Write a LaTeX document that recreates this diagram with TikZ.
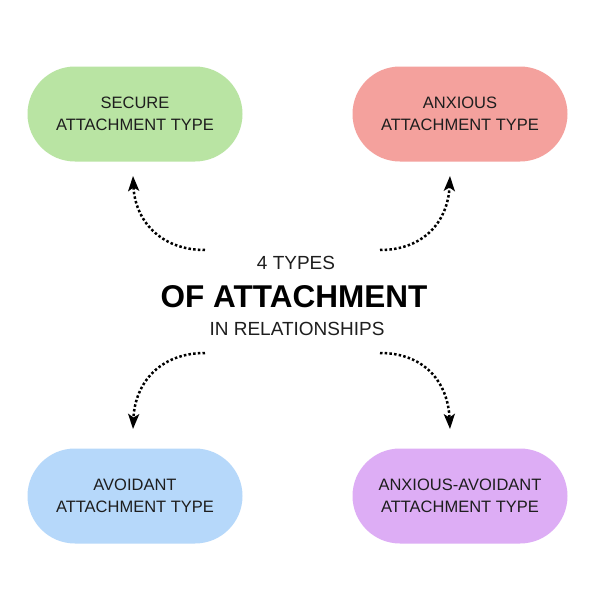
\documentclass[tikz,border=0pt]{standalone}
\usepackage{fontspec}
\setmainfont{Liberation Sans}
\usetikzlibrary{arrows.meta}
\definecolor{cgreen}{HTML}{B9E4A3}
\definecolor{cred}{HTML}{F4A19D}
\definecolor{cblue}{HTML}{B6D8FA}
\definecolor{cpurple}{HTML}{DDADF5}
\definecolor{ctext}{HTML}{1E1E1E}
\tikzset{
  pill/.style={draw=none, minimum width=215pt, minimum height=95pt, rounded corners=47.5pt, align=center, text=ctext, font=\fontsize{16.5}{22}\selectfont, inner sep=0pt},
  dotarrow/.style={line width=2.5pt, dash pattern=on 2.5pt off 2.2pt, -{Stealth[length=15pt,width=11pt,inset=3.5pt]}},
}
\begin{document}
\begin{tikzpicture}[x=1pt,y=-1pt]
\useasboundingbox (0,0) rectangle (599,605);
\fill[white] (0,0) rectangle (599,605);
\node[pill, fill=cgreen] (sec) at (135,114) {SECURE\\ATTACHMENT TYPE};
\node[pill, fill=cred] (anx) at (460,114) {ANXIOUS\\ATTACHMENT TYPE};
\node[pill, fill=cblue] (avo) at (135,496) {AVOIDANT\\ATTACHMENT TYPE};
\node[pill, fill=cpurple] (aa) at (460,496) {ANXIOUS-AVOIDANT\\ATTACHMENT TYPE};
\node[font=\fontsize{19}{22}\selectfont, text=ctext] (t1) at (296,263) {4 TYPES};
\node[font=\fontsize{31.5}{36}\bfseries\selectfont, text=black] (t2) at (294,297) {OF ATTACHMENT};
\node[font=\fontsize{19}{22}\selectfont, text=ctext] (t3) at (297,329) {IN RELATIONSHIPS};
\coordinate (s1) at (205,250);
\coordinate (e1) at (133,176);
\coordinate (s2) at (380,250);
\coordinate (e2) at (450,176);
\coordinate (s3) at (205,353);
\coordinate (e3) at (133,429);
\coordinate (s4) at (380,353);
\coordinate (e4) at (450,429);
\draw[dotarrow] (s1) .. controls (160,250) and (135,220) .. (e1);
\draw[dotarrow] (s2) .. controls (425,250) and (448,220) .. (e2);
\draw[dotarrow] (s3) .. controls (160,353) and (135,383) .. (e3);
\draw[dotarrow] (s4) .. controls (425,353) and (448,383) .. (e4);
\end{tikzpicture}
\end{document}
